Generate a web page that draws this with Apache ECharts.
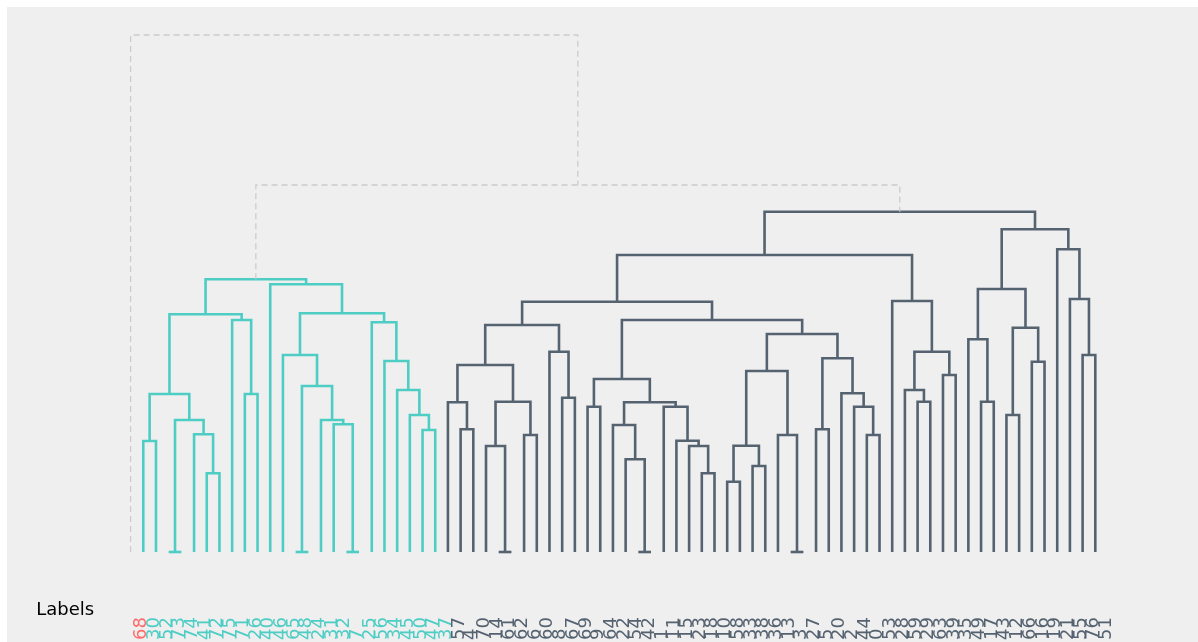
<!DOCTYPE html>
<html>
<head>
<meta charset="utf-8">
<script src="https://cdn.jsdelivr.net/npm/echarts@6/dist/echarts.min.js"></script>
<style>
html,body{margin:0;padding:0;background:#fff;overflow:hidden;}
#chart{position:absolute;left:7px;top:7px;width:1191px;height:635px;}
</style>
</head>
<body>
<div id="chart"></div>
<script>
// Leaf labels in dendrogram order
const leafLabels = ['68',
  '30','52','73','74','41','72','75','71','26','40','46','65','48','24','31','32','7','25','56','34','45','50','47','37',
  '57','4','70','14','61','62','6','60','8','67','69','9','64','22','54','42','1','11','15','23','18','10','58','33','38','36',
  '13','3','27','5','20','2','44','0','53','28','59','29','63','39','35','49','17','43','12','66','16','19','21','55','76','51'];
// Cluster of each leaf: 0 = outlier, 1 = first cluster, 2 = second cluster
const leafCluster = [0,
  1,1,1,1,1,1,1,1,1,1,1,1,1,1,1,1,1,1,1,1,1,1,1,1,
  2,2,2,2,2,2,2,2,2,2,2,2,2,2,2,2,2,2,2,2,2,2,2,2,2,2,
  2,2,2,2,2,2,2,2,2,2,2,2,2,2,2,2,2,2,2,2,2,2,2,2,2,2];
// Linkage: node ids 0..76 are leaves, merge k creates node 77+k
const mergeLeft = [1,3,6,5,78,77,9,8,82,17,16,15,13,89,12,23,22,21,20,19,91,11,85,
  26,25,29,28,31,103,101,34,33,106,36,40,39,38,45,44,43,42,113,110,47,49,120,52,51,122,54,58,57,56,126,125,119,109,
  62,61,64,135,60,133,67,66,69,71,142,141,75,74,73,145,139,99,0];
const mergeRight = [2,4,7,79,80,81,10,83,84,18,86,87,14,88,90,24,92,93,94,95,96,97,98,
  27,100,30,102,32,104,105,35,107,108,37,41,111,112,46,114,115,116,117,118,48,50,121,53,123,124,55,59,127,128,129,130,131,132,
  63,134,65,136,137,138,68,140,70,72,143,144,76,146,147,148,149,150,151];
const mergeHeight = [111,0,78.7,117.7,132,158,158,232,237.7,0,127.7,132,0,166,197,122,137,162,191,229.7,238.7,267.7,272.7,
  122.7,149.7,0,106,117,150.3,187,154.3,200.3,227,145.3,0,92.7,127,78.7,106,111.3,145.3,149.7,173,70.3,86,106.3,0,117,181,122.7,117,145.3,158.7,193.7,218,232,250.3,
  150.3,162,177,200.3,251,297,150.3,212.7,137,190.3,224.3,263,197,253,302.7,322.7,340.3,367,517];

const clusterColors = ['#cccccc', '#4ECDC4', '#556270'];
const labelColors = ['#FF6B6B', '#4ECDC4', '#556270'];

const nLeaf = leafLabels.length;
const nodeX = [], nodeH = [], nodeC = [];
for (let i = 0; i < nLeaf; i++) { nodeX[i] = i; nodeH[i] = 0; nodeC[i] = leafCluster[i]; }
const links = [];
for (let k = 0; k < mergeLeft.length; k++) {
  const a = mergeLeft[k], b = mergeRight[k], id = nLeaf + k;
  nodeX[id] = (nodeX[a] + nodeX[b]) / 2;
  nodeH[id] = mergeHeight[k];
  const c = nodeC[a] === nodeC[b] ? nodeC[a] : -1;
  nodeC[id] = c;
  links.push([nodeX[a], nodeX[b], nodeH[a], nodeH[b], mergeHeight[k], c]);
}

const chart = echarts.init(document.getElementById('chart'));
chart.setOption({
  backgroundColor: '#efefef',
  animation: false,
  grid: {left: 117.25, right: 96.35, top: 28, bottom: 32, containLabel: false, outerBoundsMode: 'none'},
  xAxis: [{
    type: 'category',
    data: leafLabels,
    boundaryGap: true,
    name: 'Labels',
    nameLocation: 'start',
    nameGap: 30,
    nameTextStyle: {fontSize: 18, color: '#000', fontFamily: 'DejaVu Sans'},
    axisLine: {show: false, onZero: false},
    axisTick: {show: false},
    splitLine: {show: false},
    axisLabel: {
      interval: 0,
      rotate: 90,
      align: 'left',
      verticalAlign: 'top',
      margin: 30,
      fontSize: 18,
      lineHeight: 22,
      fontFamily: 'DejaVu Sans',
      hideOverlap: false,
      color: function (value, index) { return labelColors[leafCluster[index]]; }
    }
  }, {
    type: 'value',
    min: -0.5,
    max: nLeaf - 0.5,
    show: false,
    splitLine: {show: false}
  }],
  yAxis: {
    type: 'value', min: -58, max: 517, show: false, splitLine: {show: false}
  },
  series: [{
    type: 'custom',
    xAxisIndex: 1,
    yAxisIndex: 0,
    clip: false,
    data: links,
    encode: {x: [0, 1], y: [2, 3, 4]},
    renderItem: function (params, api) {
      const xa = api.value(0), xb = api.value(1), ha = api.value(2), hb = api.value(3), h = api.value(4), c = api.value(5);
      const pts = [api.coord([xa, ha]), api.coord([xa, h]), api.coord([xb, h]), api.coord([xb, hb])];
      const above = c < 0;
      return {
        type: 'polyline',
        shape: {points: pts},
        style: {
          fill: null,
          stroke: above ? clusterColors[0] : clusterColors[c],
          lineWidth: above ? 1.3 : 2.6,
          lineDash: above ? [6, 4] : null,
          lineJoin: 'miter',
          lineCap: 'butt'
        }
      };
    }
  }]
});
</script>
</body>
</html>
